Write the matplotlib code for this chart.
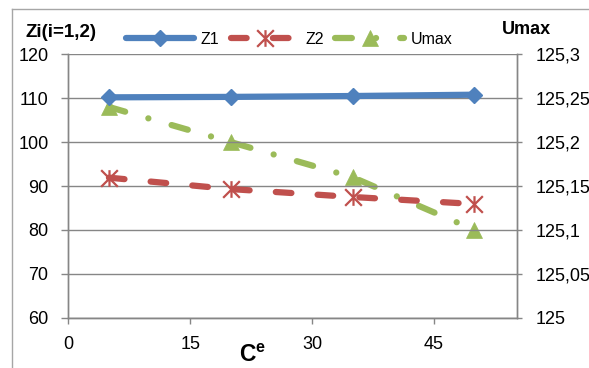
import matplotlib
matplotlib.use("Agg")
import matplotlib.pyplot as plt
from matplotlib.path import Path
from matplotlib.ticker import FuncFormatter
from matplotlib.lines import Line2D

plt.rcParams['font.family'] = ['Liberation Sans', 'DejaVu Sans']
plt.rcParams['mathtext.fontset'] = 'custom'
plt.rcParams['mathtext.bf'] = 'Liberation Sans:bold'
plt.rcParams['mathtext.rm'] = 'Liberation Sans'

# data
ce = [5, 20, 35, 50]
z1 = [110.2, 110.3, 110.5, 110.8]
z2 = [91.9, 89.3, 87.5, 85.9]
umax = [125.24, 125.2, 125.16, 125.1]

x_ticks = [0, 15, 30, 45]
z_ticks = [60, 70, 80, 90, 100, 110, 120]
u_ticks = [125, 125.05, 125.1, 125.15, 125.2, 125.25, 125.3]

BLUE = '#4F81BD'
RED = '#C0504D'
GREEN = '#9BBB59'
GRID = '#868686'

# asterisk-like marker: a cross with a vertical bar
star = Path([(-1, -1), (1, 1), (-1, 1), (1, -1), (0, -1), (0, 1)],
            [Path.MOVETO, Path.LINETO, Path.MOVETO, Path.LINETO,
             Path.MOVETO, Path.LINETO])

fig = plt.figure(figsize=(5.89, 3.68), dpi=100)
ax = fig.add_axes([0.1160, 0.1367, 0.8772 - 0.1160, 0.8524 - 0.1367])
ax2 = ax.twinx()

# Umax series goes underneath the Z series
ax2.set_zorder(ax.get_zorder() - 1)
ax.patch.set_visible(False)
ax2.patch.set_visible(True)
ax2.patch.set_facecolor('white')

lw = 4.5
l1, = ax.plot(ce, z1, color=BLUE, lw=lw, marker='D', ms=8.5, mec=BLUE,
              mfc=BLUE, mew=1, solid_capstyle='round', zorder=4, label='Z1')
l2, = ax.plot(ce, z2, color=RED, lw=lw, ls=(0, (2.5, 4.2)),
              dash_capstyle='round', marker=star, ms=12, mec=RED, mew=1.6,
              zorder=3, label='Z2')
l3, = ax2.plot(ce, umax, color=GREEN, lw=lw, ls=(0, (2.7, 3.86, 0.01, 3.86)),
               dash_capstyle='round', marker='^', ms=11.5, mec=GREEN,
               mfc=GREEN, mew=0.5, label='Umax')

ax.set_xlim(0, 55.2)
ax.set_ylim(60, 120)
ax2.set_ylim(125, 125.3)
ax.set_xticks(x_ticks)
ax.set_yticks(z_ticks)
ax2.set_yticks(u_ticks)
ax2.yaxis.set_major_formatter(
    FuncFormatter(lambda v, p: ('%g' % round(v, 2)).replace('.', ',')))

ax.grid(axis='y', color=GRID, lw=1.0)
ax.set_axisbelow(True)

for a in (ax, ax2):
    for s in a.spines.values():
        s.set_color(GRID)
        s.set_linewidth(1.0)
    a.spines['top'].set_visible(False)

ax.tick_params(axis='y', direction='out', length=4.7, width=1.0,
               color=GRID, pad=9.5, labelsize=13)
ax.tick_params(axis='x', direction='out', length=4.5, width=1.0,
               color=GRID, pad=9, labelsize=13)
ax2.tick_params(axis='y', direction='out', length=3.6, width=1.0,
                color=GRID, pad=10, labelsize=13)

ax.set_xlabel(r'$\mathbf{C^e}$', fontsize=16.5)
ax.xaxis.label.set_verticalalignment('baseline')
ax.xaxis.set_label_coords((253 - 68.3) / 448.4, (317.7 - 362) / 263.4)

fig.text(25 / 589, 1 - 37 / 368, 'Zi(i=1,2)', fontsize=13.5,
         fontweight='bold', va='baseline', ha='left')
fig.text(501.7 / 589, 1 - 34.3 / 368, 'Umax', fontsize=13,
         fontweight='bold', va='baseline', ha='left')

fig.legend(handles=[l1, l2, l3], loc='center',
           bbox_to_anchor=(289 / 589, 1 - 39 / 368), ncol=3, frameon=False,
           fontsize=11.5, handlelength=4.3, handletextpad=0.4,
           columnspacing=0.7, numpoints=1, borderaxespad=0, borderpad=0)

# chart border
fig.add_artist(Line2D([12.3 / 589, 12.3 / 589], [0, 1 - 8.7 / 368],
                      transform=fig.transFigure, color='#A6A6A6', lw=1))
fig.add_artist(Line2D([12.3 / 589, 1], [1 - 8.7 / 368, 1 - 8.7 / 368],
                      transform=fig.transFigure, color='#A6A6A6', lw=1))

fig.savefig('out.png', dpi=100)
